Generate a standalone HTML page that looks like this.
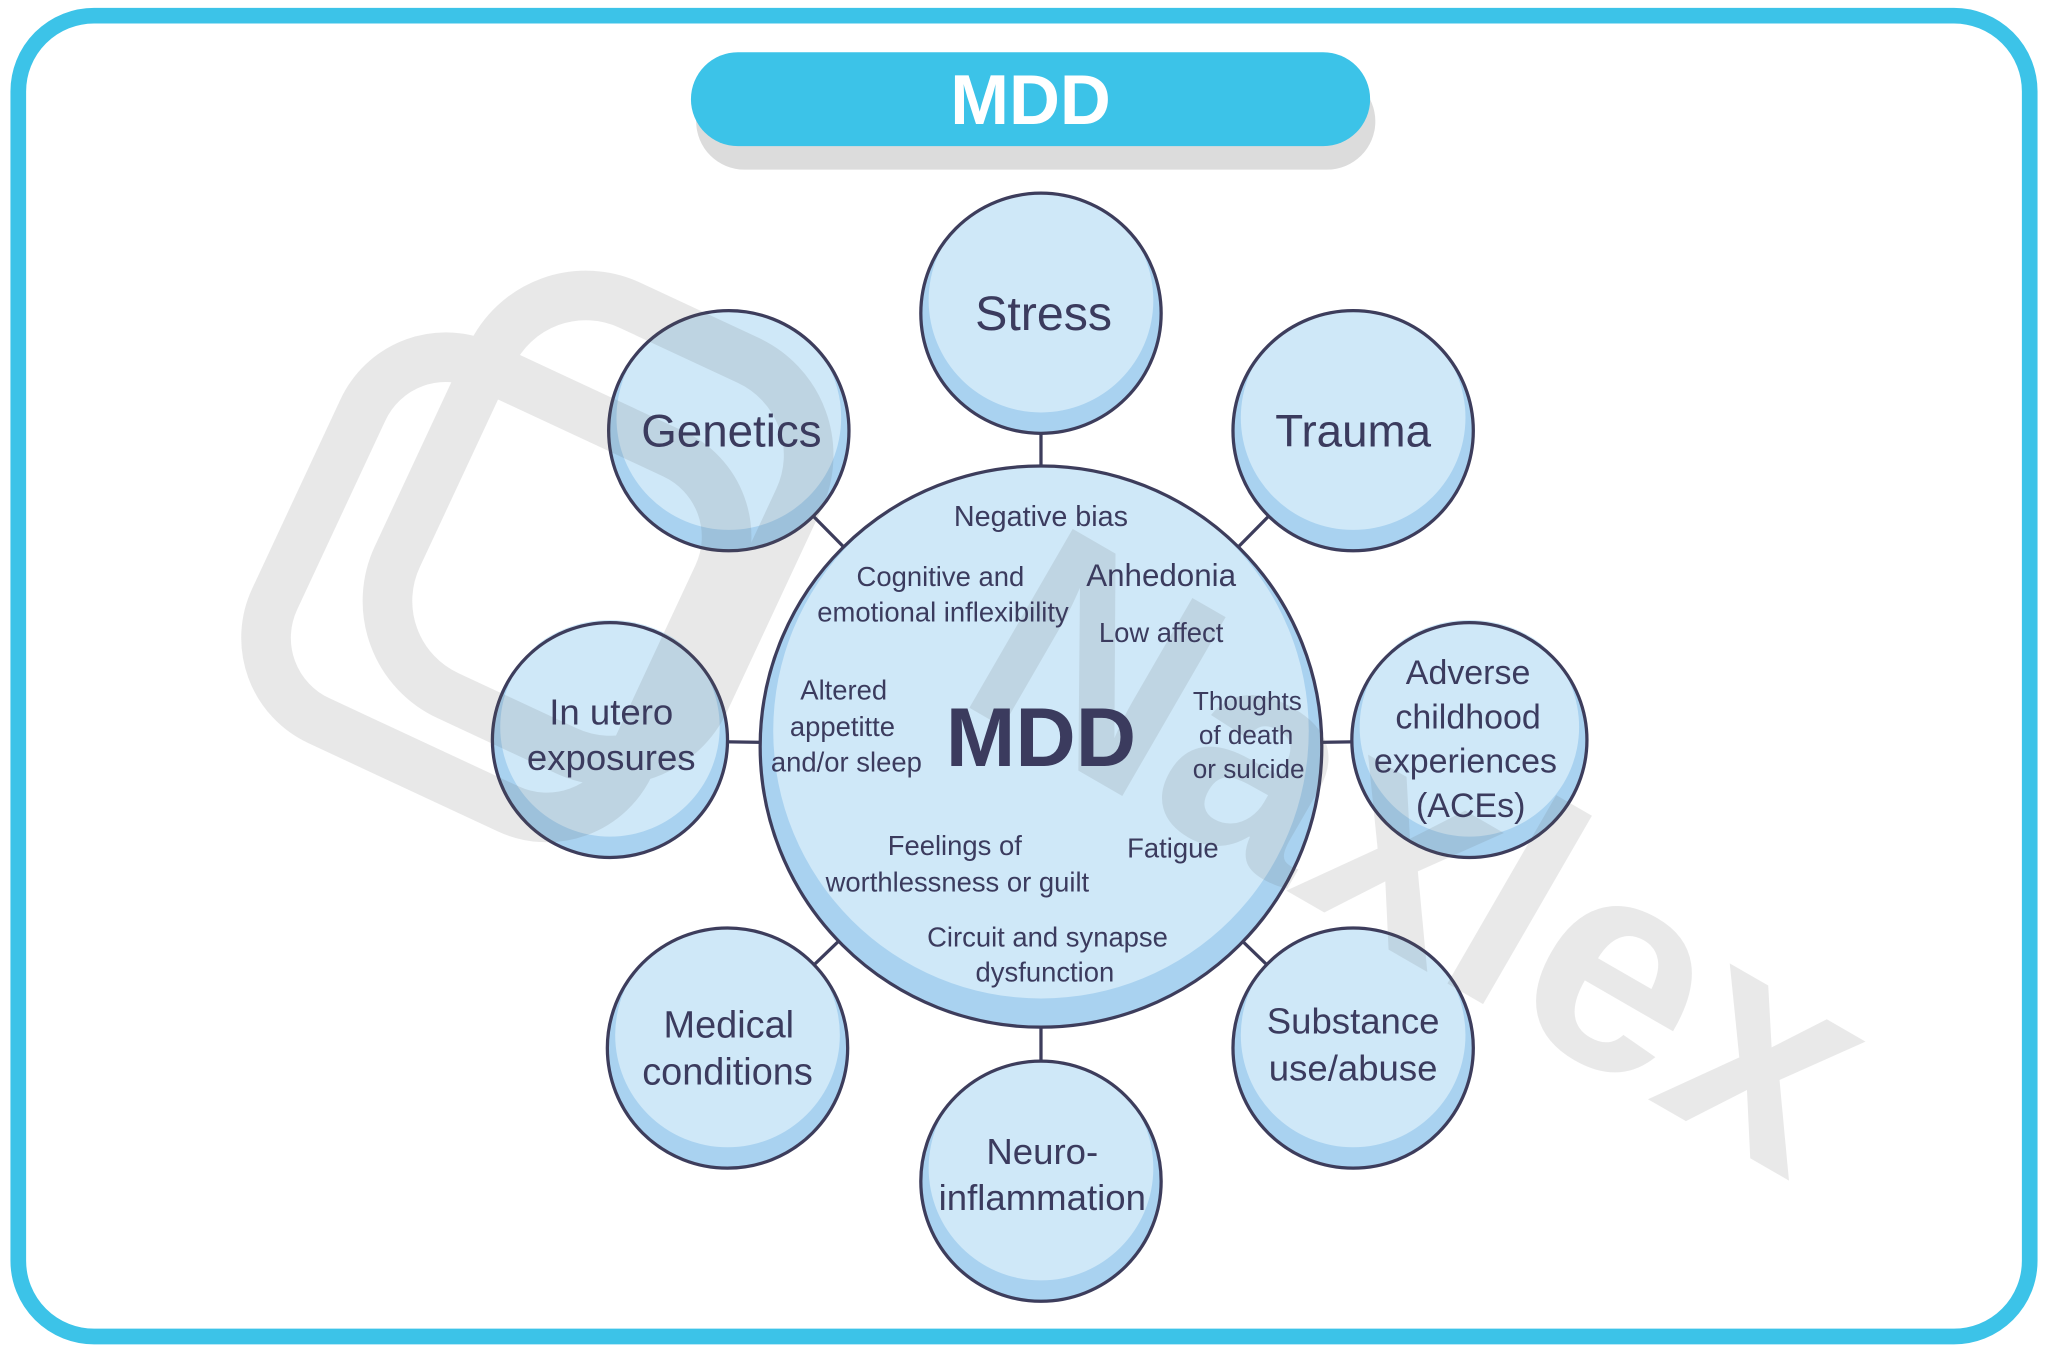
<!DOCTYPE html>
<html><head><meta charset="utf-8"><style>
html,body{margin:0;padding:0;background:#fff;}
svg{display:block;}
text{font-family:"Liberation Sans","DejaVu Sans",sans-serif;fill:#3b3b5e;text-anchor:middle;}
</style></head><body>
<svg width="2048" height="1360" viewBox="0 0 1568 1042" preserveAspectRatio="none" xmlns="http://www.w3.org/2000/svg">
<defs>
<clipPath id="c0"><circle cx="0" cy="0" r="92"/></clipPath>
<clipPath id="cm"><circle cx="797" cy="572" r="215"/></clipPath>
</defs>
<rect x="0" y="0" width="1568" height="1042" fill="#fff"/>
<rect x="14" y="12" width="1540" height="1012" rx="58" fill="#fff" stroke="#3cc3e8" stroke-width="12"/>
<rect x="533" y="56" width="520" height="74" rx="37" fill="#dcdcdc"/>
<rect x="529" y="40" width="520" height="72" rx="36" fill="#3cc3e8"/>
<text x="789" y="95" font-size="54" font-weight="bold" style="fill:#fff">MDD</text>

<g stroke="#3d3d5c" stroke-width="2.5">
<line x1="797" y1="572" x2="797" y2="240"/>
<line x1="797" y1="572" x2="1036" y2="330"/>
<line x1="797" y1="572" x2="558" y2="330"/>
<line x1="797" y1="572" x2="467" y2="567"/>
<line x1="797" y1="572" x2="1125" y2="567"/>
<line x1="797" y1="572" x2="557" y2="803"/>
<line x1="797" y1="572" x2="1036" y2="803"/>
<line x1="797" y1="572" x2="797" y2="905"/>
</g>

<circle cx="797" cy="572" r="215" fill="#a9d2f0"/>
<circle cx="797" cy="560" r="205" fill="#cfe8f8" clip-path="url(#cm)"/>
<circle cx="797" cy="572" r="215" fill="none" stroke="#3d3d5c" stroke-width="2.5"/>

<g>
<g transform="translate(797,240)"><circle r="92" fill="#a9d2f0"/><circle cy="-10" r="86" fill="#cfe8f8" clip-path="url(#c0)"/><circle r="92" fill="none" stroke="#3d3d5c" stroke-width="2.5"/></g>
<g transform="translate(1036,330)"><circle r="92" fill="#a9d2f0"/><circle cy="-10" r="86" fill="#cfe8f8" clip-path="url(#c0)"/><circle r="92" fill="none" stroke="#3d3d5c" stroke-width="2.5"/></g>
<g transform="translate(558,330)"><circle r="92" fill="#a9d2f0"/><circle cy="-10" r="86" fill="#cfe8f8" clip-path="url(#c0)"/><circle r="92" fill="none" stroke="#3d3d5c" stroke-width="2.5"/></g>
<g transform="translate(467,567)"><circle r="90" fill="#a9d2f0"/><circle cy="-10" r="84" fill="#cfe8f8" clip-path="url(#c0)"/><circle r="90" fill="none" stroke="#3d3d5c" stroke-width="2.5"/></g>
<g transform="translate(1125,567)"><circle r="90" fill="#a9d2f0"/><circle cy="-10" r="84" fill="#cfe8f8" clip-path="url(#c0)"/><circle r="90" fill="none" stroke="#3d3d5c" stroke-width="2.5"/></g>
<g transform="translate(557,803)"><circle r="92" fill="#a9d2f0"/><circle cy="-10" r="86" fill="#cfe8f8" clip-path="url(#c0)"/><circle r="92" fill="none" stroke="#3d3d5c" stroke-width="2.5"/></g>
<g transform="translate(1036,803)"><circle r="92" fill="#a9d2f0"/><circle cy="-10" r="86" fill="#cfe8f8" clip-path="url(#c0)"/><circle r="92" fill="none" stroke="#3d3d5c" stroke-width="2.5"/></g>
<g transform="translate(797,905)"><circle r="92" fill="#a9d2f0"/><circle cy="-10" r="86" fill="#cfe8f8" clip-path="url(#c0)"/><circle r="92" fill="none" stroke="#3d3d5c" stroke-width="2.5"/></g>
</g>

<!-- watermark -->
<g opacity="0.13" fill="none" stroke="#555" stroke-width="38">
<rect x="230" y="300" width="300" height="300" rx="70" transform="rotate(25 380 450)"/>
<rect x="330" y="240" width="260" height="330" rx="80" transform="rotate(25 460 400)"/>
</g>
<text x="1050" y="720" font-size="230" font-weight="bold" transform="rotate(30 1050 720)" style="fill:#555;opacity:0.12">Naxlex</text>

<text x="799" y="253" font-size="37">Stress</text>
<text x="1036" y="342" font-size="35">Trauma</text>
<text x="560" y="342" font-size="35">Genetics</text>
<text x="468" y="555" font-size="28">In utero</text>
<text x="468" y="590" font-size="28">exposures</text>
<text x="1124" y="524" font-size="26">Adverse</text>
<text x="1124" y="558" font-size="26">childhood</text>
<text x="1122" y="592" font-size="26">experiences</text>
<text x="1126" y="626" font-size="26">(ACEs)</text>
<text x="558" y="795" font-size="29">Medical</text>
<text x="557" y="831" font-size="29">conditions</text>
<text x="1036" y="792" font-size="28">Substance</text>
<text x="1036" y="828" font-size="28">use/abuse</text>
<text x="798" y="892" font-size="28">Neuro-</text>
<text x="798" y="927" font-size="28">inflammation</text>

<text x="797" y="403" font-size="22">Negative bias</text>
<text x="720" y="449" font-size="21">Cognitive and</text>
<text x="722" y="476" font-size="21">emotional inflexibility</text>
<text x="889" y="449" font-size="24">Anhedonia</text>
<text x="889" y="492" font-size="21">Low affect</text>
<text x="646" y="536" font-size="21">Altered</text>
<text x="645" y="564" font-size="21">appetitte</text>
<text x="648" y="591" font-size="21">and/or sleep</text>
<text x="797" y="587" font-size="64" font-weight="bold">MDD</text>
<text x="955" y="544" font-size="20">Thoughts</text>
<text x="954" y="570" font-size="20">of death</text>
<text x="956" y="596" font-size="20">or sulcide</text>
<text x="731" y="655" font-size="21">Feelings of</text>
<text x="733" y="683" font-size="21">worthlessness or guilt</text>
<text x="898" y="657" font-size="21">Fatigue</text>
<text x="802" y="725" font-size="21">Circuit and synapse</text>
<text x="800" y="752" font-size="21">dysfunction</text>
</svg>
</body></html>
